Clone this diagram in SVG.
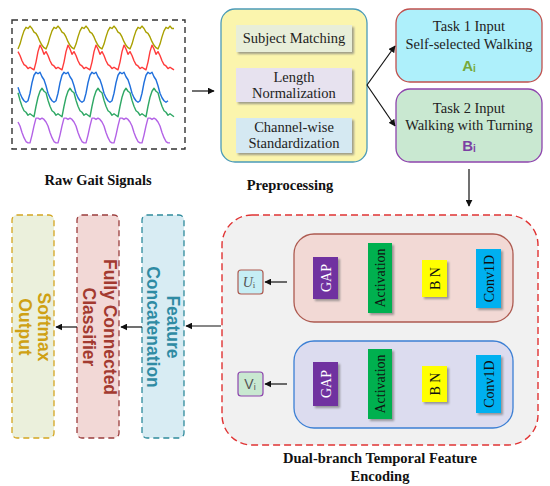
<svg xmlns="http://www.w3.org/2000/svg" width="550" height="486" viewBox="0 0 550 486">
<defs>
<style>
.serif{font-family:"Liberation Serif","Times New Roman",serif;}
.sans{font-family:"Liberation Sans",Arial,sans-serif;}
.lbl{font-family:"Liberation Serif",serif;font-weight:bold;font-size:14.5px;fill:#111;text-anchor:middle;}
.t13{font-family:"Liberation Serif",serif;font-size:14.5px;fill:#222;text-anchor:middle;}
.blk{font-family:"Liberation Serif",serif;font-size:14px;text-anchor:middle;}
.col{font-family:"Liberation Sans",Arial,sans-serif;font-weight:bold;font-size:17.5px;text-anchor:middle;}
.wave{fill:none;stroke-width:1.4;stroke-linejoin:round;}
.conn{stroke:#111;stroke-width:1.2;fill:none;marker-end:url(#ah);}
</style>
<marker id="ah" viewBox="0 0 10 10" refX="9" refY="5" markerWidth="7" markerHeight="7" orient="auto" markerUnits="userSpaceOnUse">
<path d="M0,0 L10,5 L0,10 z" fill="#111"/>
</marker>
<filter id="sh" x="-20%" y="-20%" width="140%" height="140%">
<feDropShadow dx="2" dy="2" stdDeviation="0.8" flood-color="#777" flood-opacity="0.7"/>
</filter>
</defs>
<rect width="550" height="486" fill="#ffffff"/>

<!-- Raw gait signals -->
<g id="raw">
<rect x="12" y="20" width="173" height="129" fill="none" stroke="#333" stroke-width="1.4" stroke-dasharray="6,4"/>
<path class="wave" vector-effect="non-scaling-stroke" transform="matrix(1,0,0,1.2,0,-7.5)" stroke="#a9a000" d="M18,47 l2,-4 2,-6 2,-5 2,-3 2,1 2,-2 2,2 2,3 2,1 2,3 2,4 2,3 2,2 2,1 2,-4 2,-6 2,-5 2,-3 2,1 2,-2 2,2 2,3 2,1 2,3 2,4 2,3 2,2 2,1 2,-4 2,-6 2,-5 2,-3 2,1 2,-2 2,2 2,3 2,1 2,3 2,4 2,3 2,2 2,1 2,-4 2,-6 2,-5 2,-3 2,1 2,-2 2,2 2,3 2,1 2,3 2,4 2,3 2,2 2,1 2,-4 2,-6 2,-5 2,-3 2,1 2,-2 2,2 2,3 2,1 2,3 2,4 2,3 2,2 2,1 2,-4 2,-6 2,-5 2,-3 2,1 2,-2 2,2 2,0"/>
<path class="wave" vector-effect="non-scaling-stroke" transform="matrix(1,0,0,1.3,0,-21.15)" stroke="#ff3b3b" d="M18,56 l2,3 2,4 2,3 2,1 2,2 2,-1 2,1 2,1 2,-6 2,-8 2,-5 2,3 2,4 2,-2 2,3 2,4 2,3 2,1 2,2 2,-1 2,1 2,1 2,-6 2,-8 2,-5 2,3 2,4 2,-2 2,3 2,4 2,3 2,1 2,2 2,-1 2,1 2,1 2,-6 2,-8 2,-5 2,3 2,4 2,-2 2,3 2,4 2,3 2,1 2,2 2,-1 2,1 2,1 2,-6 2,-8 2,-5 2,3 2,4 2,-2 2,3 2,4 2,3 2,1 2,2 2,-1 2,1 2,1 2,-6 2,-8 2,-5 2,3 2,4 2,-2 2,3 2,4 2,3 2,1 2,2 2,-1 2,1 2,1"/>
<path class="wave" vector-effect="non-scaling-stroke" transform="matrix(1,0,0,1.5,0,-49.25)" stroke="#1f6fdc" d="M18,91 l2,4 2,3 2,2 2,1 2,-1 2,-5 2,-7 2,-5 2,-2 2,1 2,-1 2,3 2,2 2,4 2,5 2,3 2,2 2,1 2,-1 2,-5 2,-7 2,-5 2,-2 2,1 2,-1 2,3 2,2 2,4 2,5 2,3 2,2 2,1 2,-1 2,-5 2,-7 2,-5 2,-2 2,1 2,-1 2,3 2,2 2,4 2,5 2,3 2,2 2,1 2,-1 2,-5 2,-7 2,-5 2,-2 2,1 2,-1 2,3 2,2 2,4 2,5 2,3 2,2 2,1 2,-1 2,-5 2,-7 2,-5 2,-2 2,1 2,-1 2,3 2,2 2,4 2,5 2,3 2,2 2,1 2,-1"/>
<path class="wave" vector-effect="non-scaling-stroke" transform="matrix(1,0,0,1.5,0,-57.25)" stroke="#2fa865" d="M18,100 l2,5 2,4 2,3 2,1 2,2 2,-1 2,1 2,1 2,-7 2,-6 2,-4 2,-2 2,2 2,1 2,5 2,4 2,3 2,1 2,2 2,-1 2,1 2,1 2,-7 2,-6 2,-4 2,-2 2,2 2,1 2,5 2,4 2,3 2,1 2,2 2,-1 2,1 2,1 2,-7 2,-6 2,-4 2,-2 2,2 2,1 2,5 2,4 2,3 2,1 2,2 2,-1 2,1 2,1 2,-7 2,-6 2,-4 2,-2 2,2 2,1 2,5 2,4 2,3 2,1 2,2 2,-1 2,1 2,1 2,-7 2,-6 2,-4 2,-2 2,2 2,1 2,5 2,4 2,3 2,1 2,2 2,-1 2,1 2,1"/>
<path class="wave" vector-effect="non-scaling-stroke" transform="matrix(1,0,0,1.3,0,-40.45)" stroke="#b362e6" d="M18,125 l2,3 2,5 2,4 2,3 2,1 2,0 2,-6 2,-7 2,-6 2,0 2,1 2,-1 2,1 2,2 2,3 2,5 2,4 2,3 2,1 2,0 2,-6 2,-7 2,-6 2,0 2,1 2,-1 2,1 2,2 2,3 2,5 2,4 2,3 2,1 2,0 2,-6 2,-7 2,-6 2,0 2,1 2,-1 2,1 2,2 2,3 2,5 2,4 2,3 2,1 2,0 2,-6 2,-7 2,-6 2,0 2,1 2,-1 2,1 2,2 2,3 2,5 2,4 2,3 2,1 2,0 2,-6 2,-7 2,-6 2,0 2,1 2,-1 2,1 2,2 2,3 2,5 2,4 2,3 2,1 2,0"/>
<text class="lbl" x="98" y="185">Raw Gait Signals</text>
</g>

<!-- Preprocessing -->
<g id="preprocessing">
<rect x="221" y="9" width="146" height="153" rx="14" fill="#fbf5ad" stroke="#4b9bb8" stroke-width="1.3"/>
<rect x="236" y="25" width="116" height="27" fill="#e8eed9" filter="url(#sh)"/>
<text class="t13" x="294" y="43">Subject Matching</text>
<rect x="236" y="68" width="116" height="34" fill="#e7e2ef" filter="url(#sh)"/>
<text class="t13" x="294" y="82">Length</text>
<text class="t13" x="294" y="98">Normalization</text>
<rect x="236" y="118" width="116" height="35" fill="#d5e9f2" filter="url(#sh)"/>
<text class="t13" x="294" y="132">Channel-wise</text>
<text class="t13" x="294" y="148">Standardization</text>
<text class="lbl" x="290" y="190">Preprocessing</text>
</g>

<!-- Task 1 -->
<g id="task1">
<rect x="396" y="9" width="146" height="73" rx="14" fill="#aef0fb" stroke="#c0504d" stroke-width="1.3"/>
<text class="t13" x="469" y="31">Task 1 Input</text>
<text class="t13" x="469" y="49">Self-selected Walking</text>
<text class="sans" x="469" y="71" text-anchor="middle" font-weight="bold" font-size="15" fill="#77a83a">A<tspan font-size="10" dy="1">i</tspan></text>
</g>

<!-- Task 2 -->
<g id="task2">
<rect x="396" y="89" width="146" height="73" rx="14" fill="#c9e8d1" stroke="#8e44ad" stroke-width="1.3"/>
<text class="t13" x="469" y="113">Task 2 Input</text>
<text class="t13" x="469" y="130">Walking with Turning</text>
<text class="sans" x="469" y="151" text-anchor="middle" font-weight="bold" font-size="15" fill="#7b3fa3">B<tspan font-size="10" dy="1">i</tspan></text>
</g>

<!-- Dual-branch encoder -->
<g id="encoder">
<rect x="222" y="215" width="316" height="230" rx="30" fill="#f1f1f1" stroke="#e03333" stroke-width="1.4" stroke-dasharray="7,4"/>
<text class="lbl" x="380" y="463">Dual-branch Temporal Feature</text>
<text class="lbl" x="380" y="481">Encoding</text>
</g>

<g id="branch1">
<rect x="294" y="234" width="219" height="88" rx="20" fill="#f2d9d5" stroke="#ad5a50" stroke-width="1.3"/>
<rect x="313" y="257" width="25" height="42" fill="#7030a0" filter="url(#sh)"/>
<text class="blk" fill="#ffffff" transform="translate(330.5,278) rotate(-90)">GAP</text>
<rect x="368" y="243" width="24" height="70" fill="#00b050" filter="url(#sh)"/>
<text class="blk" fill="#111" transform="translate(385,278) rotate(-90)">Activation</text>
<rect x="422" y="260" width="25" height="37" fill="#ffff00" filter="url(#sh)"/>
<text class="blk" fill="#111" transform="translate(439.5,278.5) rotate(-90)">B N</text>
<rect x="476" y="249" width="25" height="59" fill="#00b0f0" filter="url(#sh)"/>
<text class="blk" fill="#111" transform="translate(493.5,278.5) rotate(-90)">Conv1D</text>
</g>

<g id="branch2">
<rect x="294" y="341" width="219" height="87" rx="20" fill="#dcdcef" stroke="#3b7fd4" stroke-width="1.3"/>
<rect x="313" y="362" width="25" height="44" fill="#7030a0" filter="url(#sh)"/>
<text class="blk" fill="#ffffff" transform="translate(330.5,384) rotate(-90)">GAP</text>
<rect x="368" y="349" width="24" height="70" fill="#00b050" filter="url(#sh)"/>
<text class="blk" fill="#111" transform="translate(385,384) rotate(-90)">Activation</text>
<rect x="422" y="366" width="25" height="36" fill="#ffff00" filter="url(#sh)"/>
<text class="blk" fill="#111" transform="translate(439.5,384) rotate(-90)">B N</text>
<rect x="476" y="355" width="25" height="58" fill="#00b0f0" filter="url(#sh)"/>
<text class="blk" fill="#111" transform="translate(493.5,384) rotate(-90)">Conv1D</text>
</g>

<g id="ui">
<rect x="238" y="270" width="25" height="24" rx="3" fill="#c6eef5" stroke="#ad5a50" stroke-width="1.2"/>
<text class="serif" x="249" y="287" text-anchor="middle" font-style="italic" font-size="14" fill="#555">U<tspan font-size="9" dy="1" font-style="normal">i</tspan></text>
</g>
<g id="vi">
<rect x="238" y="372" width="25" height="24" rx="3" fill="#c9e8d1" stroke="#8e44ad" stroke-width="1.2"/>
<text class="sans" x="250" y="389" text-anchor="middle" font-size="14" fill="#555">V<tspan font-size="9" dy="1">i</tspan></text>
</g>

<!-- Left columns -->
<g id="feature-concat">
<rect x="142" y="215" width="42" height="223" rx="5" fill="#d8ecf3" stroke="#2f8a9c" stroke-width="1.3" stroke-dasharray="6,4"/>
<text class="col" fill="#2f8ba3" transform="translate(167,327) rotate(90)">Feature</text>
<text class="col" fill="#2f8ba3" transform="translate(147,327) rotate(90)">Concatenation</text>
</g>
<g id="fc-classifier">
<rect x="77" y="215" width="42" height="223" rx="5" fill="#f2d8d6" stroke="#9b3d3d" stroke-width="1.3" stroke-dasharray="6,4"/>
<text class="col" fill="#a33a30" transform="translate(104,327) rotate(90)">Fully Connected</text>
<text class="col" fill="#a33a30" transform="translate(83,327) rotate(90)">Classifier</text>
</g>
<g id="softmax">
<rect x="12" y="215" width="42" height="223" rx="5" fill="#ebf0dc" stroke="#d4a520" stroke-width="1.3" stroke-dasharray="6,4"/>
<text class="col" fill="#cfa114" transform="translate(38,327) rotate(90)">Softmax</text>
<text class="col" fill="#cfa114" transform="translate(19,327) rotate(90)">Output</text>
</g>

<!-- Connectors -->
<g id="connectors">
<path class="conn" d="M192,91 L214,91"/>
<path class="conn" d="M367,85 L395,46"/>
<path class="conn" d="M367,85 L395,126"/>
<path class="conn" d="M469,169 L469,206"/>
<path class="conn" d="M287,282 L265,282"/>
<path class="conn" d="M287,384 L265,384"/>
<path class="conn" d="M221,326 L186,326"/>
<path class="conn" d="M142,327 L121,327"/>
<path class="conn" d="M77,327 L56,327"/>
</g>
</svg>
